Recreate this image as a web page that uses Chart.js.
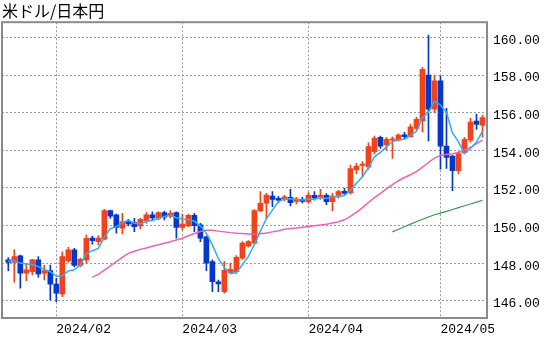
<!DOCTYPE html>
<html>
<head>
<meta charset="utf-8">
<script src="https://cdn.jsdelivr.net/npm/chart.js@4.4.1/dist/chart.umd.min.js"></script>
<style>
  html, body { margin: 0; padding: 0; background: #fff; }
  #wrap { width: 560px; height: 344px; }
</style>
</head>
<body>
<div id="wrap"><canvas id="fxChart" width="560" height="344"></canvas></div>
<script>
// trading days shown on the chart
const dates = [
    '2024/01/22', '2024/01/23', '2024/01/24', '2024/01/25', '2024/01/26', '2024/01/29', '2024/01/30', '2024/01/31',
    '2024/02/01', '2024/02/02', '2024/02/05', '2024/02/06', '2024/02/07', '2024/02/08', '2024/02/09', '2024/02/12',
    '2024/02/13', '2024/02/14', '2024/02/15', '2024/02/16', '2024/02/19', '2024/02/20', '2024/02/21', '2024/02/22',
    '2024/02/23', '2024/02/26', '2024/02/27', '2024/02/28', '2024/02/29',
    '2024/03/01', '2024/03/04', '2024/03/05', '2024/03/06', '2024/03/07', '2024/03/08', '2024/03/11', '2024/03/12',
    '2024/03/13', '2024/03/14', '2024/03/15', '2024/03/18', '2024/03/19', '2024/03/20', '2024/03/21', '2024/03/22',
    '2024/03/25', '2024/03/26', '2024/03/27', '2024/03/28', '2024/03/29',
    '2024/04/01', '2024/04/02', '2024/04/03', '2024/04/04', '2024/04/05', '2024/04/08', '2024/04/09', '2024/04/10',
    '2024/04/11', '2024/04/12', '2024/04/15', '2024/04/16', '2024/04/17', '2024/04/18', '2024/04/19', '2024/04/22',
    '2024/04/23', '2024/04/24', '2024/04/25', '2024/04/26', '2024/04/29', '2024/04/30',
    '2024/05/01', '2024/05/02', '2024/05/03', '2024/05/06', '2024/05/07', '2024/05/08', '2024/05/09', '2024/05/10'
];

const opens = [
    148.17, 148.04, 148.38, 147.46, 147.55, 148.17, 147.46, 147.60,
    146.89, 146.36, 148.13, 148.70, 147.88, 148.17, 149.33, 149.14,
    149.27, 150.79, 150.56, 149.86, 150.19, 150.15, 149.98, 150.25,
    150.56, 150.38, 150.68, 150.50, 150.68,
    149.90, 149.98, 150.54, 150.04, 149.40, 148.08, 147.01, 146.48,
    147.49, 147.55, 148.26, 148.91, 149.06, 150.79, 151.18, 151.57,
    151.44, 151.39, 151.50, 151.28, 151.39,
    151.25, 151.60, 151.50, 151.60, 151.26, 151.60, 151.82, 151.75,
    152.95, 153.20, 153.12, 153.92, 154.69, 154.28, 154.54, 154.54,
    154.82, 154.72, 155.16, 155.57, 158.00, 156.18,
    157.69, 154.22, 153.69, 152.91, 153.87, 154.54, 155.55, 155.34
];
const highs = [
    148.29, 148.70, 148.42, 147.99, 148.20, 148.34, 147.88, 147.90,
    147.19, 148.60, 148.84, 148.79, 148.27, 149.50, 149.44, 149.46,
    150.86, 150.82, 150.60, 150.65, 150.33, 150.38, 150.38, 150.68,
    150.72, 150.73, 150.77, 150.79, 150.73,
    150.60, 150.60, 150.65, 150.12, 149.44, 148.17, 147.10, 148.10,
    148.00, 148.40, 149.15, 149.20, 150.85, 151.80, 151.71, 151.80,
    151.55, 151.60, 151.92, 151.50, 151.50,
    151.75, 151.80, 151.92, 151.70, 151.71, 151.87, 151.97, 153.21,
    153.30, 153.40, 154.40, 154.75, 154.75, 154.69, 154.72, 154.88,
    154.95, 155.38, 155.75, 158.41, 160.12, 158.00,
    157.94, 156.23, 153.75, 153.92, 154.69, 155.70, 155.92, 155.87
];
const lows = [
    147.60, 146.98, 146.66, 147.07, 147.37, 147.25, 147.10, 146.04,
    145.95, 146.22, 148.03, 147.80, 147.80, 148.00, 149.00, 148.96,
    149.23, 150.38, 149.59, 149.55, 149.98, 149.67, 149.82, 150.12,
    150.25, 150.30, 150.30, 150.40, 149.32,
    149.76, 149.94, 149.67, 149.14, 147.60, 146.48, 146.48, 146.40,
    147.45, 147.45, 148.20, 148.85, 149.00, 150.73, 150.38, 151.00,
    151.20, 151.30, 151.04, 151.15, 151.20,
    151.20, 151.35, 151.39, 151.10, 150.79, 151.45, 151.65, 151.67,
    152.75, 152.60, 153.00, 153.80, 154.10, 154.01, 153.57, 154.48,
    154.60, 154.68, 155.10, 154.98, 154.50, 156.00,
    152.99, 153.04, 151.85, 152.74, 153.80, 154.43, 155.11, 154.69
];
const closes = [
    148.03, 148.34, 147.46, 147.64, 148.17, 147.43, 147.60, 146.88,
    146.40, 148.34, 148.70, 147.88, 148.20, 149.32, 149.19, 149.33,
    150.79, 150.50, 149.90, 150.19, 150.08, 149.94, 150.33, 150.56,
    150.40, 150.68, 150.44, 150.65, 149.90,
    150.08, 150.54, 149.99, 149.32, 147.99, 147.01, 146.89, 147.62,
    147.67, 148.31, 149.06, 149.14, 150.79, 151.18, 151.62, 151.39,
    151.35, 151.53, 151.21, 151.42, 151.28,
    151.60, 151.46, 151.60, 151.26, 151.57, 151.80, 151.71, 153.02,
    153.16, 153.27, 154.19, 154.63, 154.22, 154.58, 154.61, 154.81,
    154.72, 155.25, 155.64, 158.30, 156.18, 157.69,
    154.22, 153.62, 152.91, 153.83, 154.58, 155.50, 155.38, 155.74
];

// moving averages (short / mid / long)
const maShort = [
    148.10, 148.12, 148.00, 147.95, 147.93, 147.81, 147.66, 147.54,
    147.30, 147.33, 147.58, 147.64, 147.90, 148.49, 148.66, 148.78,
    149.37, 149.83, 149.94, 150.14, 150.29, 150.12, 150.09, 150.22,
    150.26, 150.38, 150.48, 150.55, 150.41,
    150.35, 150.32, 150.23, 149.97, 149.58, 148.97, 148.24, 147.77,
    147.44, 147.50, 147.91, 148.36, 148.99, 149.70, 150.36, 150.82,
    151.27, 151.41, 151.42, 151.38, 151.36,
    151.41, 151.39, 151.47, 151.44, 151.50, 151.54, 151.59, 151.87,
    152.25, 152.59, 153.07, 153.65, 153.89, 154.18, 154.45, 154.57,
    154.59, 154.79, 155.01, 155.74, 156.02, 156.61,
    156.41, 156.00, 154.92, 154.45, 153.83, 154.09, 154.44, 155.01
];
const maMid = [
    null, null, null, null, null, null, null, null,
    null, null, null, null, null, null, 147.25, 147.40,
    147.62, 147.85, 148.08, 148.30, 148.52, 148.63, 148.73, 148.80,
    148.90, 148.98, 149.06, 149.14, 149.23,
    149.32, 149.45, 149.57, 149.68, 149.75, 149.74, 149.70, 149.66,
    149.62, 149.59, 149.57, 149.55, 149.55, 149.56, 149.60, 149.66,
    149.72, 149.80, 149.84, 149.87, 149.91,
    149.94, 149.98, 150.02, 150.07, 150.13, 150.20, 150.30, 150.48,
    150.70, 150.95, 151.22, 151.48, 151.71, 151.95, 152.17, 152.38,
    152.55, 152.70, 152.86, 153.10, 153.35, 153.58,
    153.72, 153.78, 153.82, 153.88, 154.02, 154.15, 154.35, 154.54
];
const maLong = [
    null, null, null, null, null, null, null, null,
    null, null, null, null, null, null, null, null,
    null, null, null, null, null, null, null, null,
    null, null, null, null, null,
    null, null, null, null, null, null, null, null,
    null, null, null, null, null, null, null, null,
    null, null, null, null, null,
    null, null, null, null, null, null, null, null,
    null, null, null, null, null, null, 149.66, 149.80,
    149.93, 150.07, 150.20, 150.33, 150.45, 150.57,
    150.66, 150.75, 150.85, 150.95, 151.05, 151.14, 151.24, 151.34
];

const yTicks = [146, 148, 150, 152, 154, 156, 158, 160];

const UP = '#f0421c';
const DOWN = '#0637cc';
const candleColors = closes.map((c, i) => c >= opens[i] ? UP : DOWN);

const tickFont = { family: '"Liberation Mono", "DejaVu Sans Mono", monospace', size: 13 };

// gray frame round the plot area
const framePlugin = {
    id: 'frame',
    afterDraw(chart) {
        const a = chart.chartArea;
        const ctx = chart.ctx;
        ctx.save();
        ctx.strokeStyle = '#8a8a8a';
        ctx.lineWidth = 2;
        ctx.strokeRect(a.left, a.top, a.right - a.left, a.bottom - a.top);
        ctx.restore();
    }
};

new Chart(document.getElementById('fxChart'), {
    type: 'bar',
    data: {
        datasets: [{
            type: 'line',
            data: maShort.map((v, i) => ({ x: i, y: v })),
            borderColor: '#38aaee',
            borderWidth: 1.5,
            pointRadius: 0,
            tension: 0,
            order: 0
        }, {
            type: 'line',
            data: maMid.map((v, i) => ({ x: i, y: v })),
            borderColor: '#ee62b2',
            borderWidth: 1.5,
            pointRadius: 0,
            tension: 0,
            order: 0
        }, {
            type: 'line',
            data: maLong.map((v, i) => ({ x: i, y: v })),
            borderColor: '#3a9a52',
            borderWidth: 1.2,
            pointRadius: 0,
            tension: 0,
            order: 0
        }, {
            // candle bodies
            data: opens.map((o, i) => ({ x: i, y: [o, closes[i]] })),
            backgroundColor: candleColors,
            barThickness: 5,
            minBarLength: 1,
            grouped: false,
            order: 1
        }, {
            // wicks
            data: lows.map((l, i) => ({ x: i, y: [l, highs[i]] })),
            backgroundColor: candleColors,
            barThickness: 1,
            grouped: false,
            order: 2
        }]
    },
    options: {
        responsive: false,
        animation: false,
        layout: { padding: { left: 2, right: 0, top: 0, bottom: 0 } },
        plugins: {
            legend: { display: false },
            tooltip: { enabled: false },
            title: {
                display: true,
                text: '米ドル/日本円',
                align: 'start',
                color: '#000',
                font: { family: '"Noto Sans CJK JP", sans-serif', size: 16, weight: 'normal' },
                padding: { top: 1, bottom: 2 }
            }
        },
        scales: {
            x: {
                type: 'linear',
                min: -1.05,
                max: 79.75,
                offset: false,
                grid: { color: '#9a9a9a', drawTicks: false, offset: false },
                border: { display: false, dash: [2, 2] },
                afterBuildTicks(scale) {
                    const t = [];
                    dates.forEach((d, i) => {
                        if (i > 0 && d.slice(0, 7) !== dates[i - 1].slice(0, 7)) t.push({ value: i });
                    });
                    scale.ticks = t;
                },
                afterFit(scale) { scale.height = 26; },
                ticks: {
                    color: '#000',
                    font: tickFont,
                    padding: 4,
                    align: 'start',
                    maxRotation: 0,
                    autoSkip: false,
                    callback: (v) => dates[v].slice(0, 7)
                }
            },
            y: {
                position: 'right',
                min: 145.08,
                max: 160.81,
                grid: { color: '#9a9a9a', drawTicks: false },
                border: { display: false, dash: [2, 2] },
                afterBuildTicks(scale) {
                    scale.ticks = yTicks.map(v => ({ value: v }));
                },
                afterFit(scale) { scale.width = 73; },
                ticks: {
                    color: '#000',
                    font: tickFont,
                    padding: 6,
                    labelOffset: 3,
                    callback: (v) => v.toFixed(2)
                }
            }
        }
    },
    plugins: [framePlugin]
});
</script>
</body>
</html>
